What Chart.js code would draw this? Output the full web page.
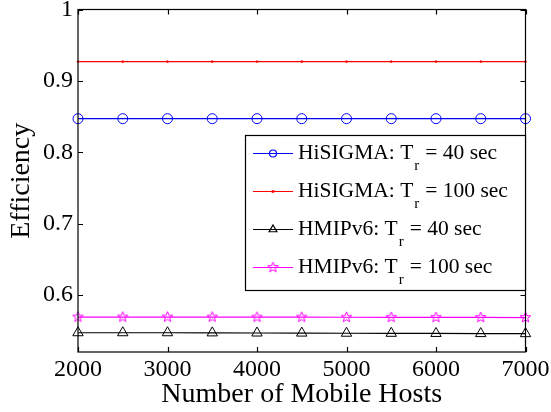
<!DOCTYPE html>
<html>
<head>
<meta charset="utf-8">
<script src="https://cdn.jsdelivr.net/npm/chart.js@4/dist/chart.umd.min.js"></script>
<style>
  html, body { margin: 0; padding: 0; background: #fff; }
  #wrap { width: 551px; height: 412px; position: relative; }
</style>
</head>
<body>
<div id="wrap"><canvas id="chart"></canvas></div>
<script>
// --- Data ---
const hosts = [2000, 2500, 3000, 3500, 4000, 4500, 5000, 5500, 6000, 6500, 7000];
const hisigma40 = [0.847, 0.847, 0.847, 0.847, 0.847, 0.847, 0.847, 0.847, 0.847, 0.847, 0.847];
const hisigma100 = [0.927, 0.927, 0.927, 0.927, 0.927, 0.927, 0.927, 0.927, 0.927, 0.927, 0.927];
const hmip40 = [0.547, 0.547, 0.547, 0.5468, 0.5466, 0.5465, 0.5463, 0.5462, 0.546, 0.5458, 0.5457];
const hmip100 = [0.569, 0.569, 0.569, 0.569, 0.5688, 0.5688, 0.5687, 0.5686, 0.5685, 0.5684, 0.5683];
const xTicks = [2000, 3000, 4000, 5000, 6000, 7000];
const yTicks = [0.6, 0.7, 0.8, 0.9, 1];
const seriesNames = ['HiSIGMA: T', 'HiSIGMA: T', 'HMIPv6: T', 'HMIPv6: T'];
const seriesSuffix = ['= 40 sec', '= 100 sec', '= 40 sec', '= 100 sec'];

const SERIF = '"Liberation Serif", "DejaVu Serif", serif';

// five-point outline star, used as a point style
function makeStar(color, r) {
  const size = Math.ceil(r * 2 + 4);
  const c = document.createElement('canvas');
  c.width = size; c.height = size;
  const g = c.getContext('2d');
  const cx = size / 2, cy = size / 2;
  g.beginPath();
  for (let i = 0; i < 10; i++) {
    const rad = i % 2 === 0 ? r : r * 0.42;
    const a = -Math.PI / 2 + i * Math.PI / 5;
    const px = cx + rad * Math.cos(a), py = cy + rad * Math.sin(a);
    if (i === 0) g.moveTo(px, py); else g.lineTo(px, py);
  }
  g.closePath();
  g.strokeStyle = color;
  g.lineWidth = 1;
  g.stroke();
  return c;
}
const starImg = makeStar('#ff00ff', 5.5);

const toPoints = arr => arr.map((v, i) => ({ x: hosts[i], y: v }));

const datasets = [
  { data: toPoints(hisigma40), borderColor: '#0000ff', pointStyle: 'circle', pointRadius: 5, pointBorderWidth: 1 },
  { data: toPoints(hisigma100), borderColor: '#ff0000', pointStyle: 'rect', pointRadius: 1, pointBorderWidth: 1 },
  { data: toPoints(hmip40), borderColor: '#000000', pointStyle: 'triangle', pointRadius: 6, pointBorderWidth: 1 },
  { data: toPoints(hmip100), borderColor: '#ff00ff', pointStyle: starImg, pointRadius: 6, pointBorderWidth: 1 }
].map(d => Object.assign({
  borderWidth: 1.2,
  backgroundColor: 'rgba(0,0,0,0)',
  pointBackgroundColor: 'rgba(0,0,0,0)',
  pointBorderColor: d.borderColor,
  tension: 0,
  clip: false
}, d));

// box around the plot with inward ticks on all four sides
const framePlugin = {
  id: 'frame',
  afterDatasetsDraw(chart) {
    const { ctx, chartArea: a, scales } = chart;
    ctx.save();
    ctx.strokeStyle = '#000';
    ctx.lineWidth = 1.2;
    ctx.strokeRect(a.left, a.top, a.right - a.left, a.bottom - a.top);
    const tl = 5;
    ctx.beginPath();
    xTicks.forEach(v => {
      const x = Math.round(scales.x.getPixelForValue(v)) + 0.5;
      ctx.moveTo(x, a.bottom); ctx.lineTo(x, a.bottom - tl);
      ctx.moveTo(x, a.top); ctx.lineTo(x, a.top + tl);
    });
    yTicks.forEach(v => {
      const y = Math.round(scales.y.getPixelForValue(v)) + 0.5;
      ctx.moveTo(a.left, y); ctx.lineTo(a.left + tl, y);
      ctx.moveTo(a.right, y); ctx.lineTo(a.right - tl, y);
    });
    ctx.stroke();
    ctx.restore();
  }
};

// legend box with subscripted T_r
const legendPlugin = {
  id: 'subLegend',
  afterDraw(chart) {
    const { ctx } = chart;
    const box = { left: 245, top: 135, right: 525, bottom: 290 };
    ctx.save();
    ctx.fillStyle = '#fff';
    ctx.fillRect(box.left, box.top, box.right - box.left, box.bottom - box.top);
    ctx.strokeStyle = '#000';
    ctx.lineWidth = 1.2;
    ctx.strokeRect(box.left + 0.5, box.top + 0.5, box.right - box.left, box.bottom - box.top);
    datasets.forEach((ds, i) => {
      const y = 153 + i * 38;
      ctx.strokeStyle = ds.borderColor;
      ctx.lineWidth = 1.2;
      ctx.beginPath();
      ctx.moveTo(253, y + 0.5); ctx.lineTo(293, y + 0.5);
      ctx.stroke();
      ctx.fillStyle = ds.pointStyle === 'rect' ? ds.borderColor : 'rgba(0,0,0,0)';
      Chart.helpers.drawPoint(ctx, {
        pointStyle: ds.pointStyle,
        radius: ds.pointStyle === 'rect' ? 1 : ds.pointRadius - 1.5,
        borderWidth: 1,
        rotation: 0
      }, 273, y + 0.5);
      ctx.fillStyle = '#000';
      ctx.textBaseline = 'middle';
      ctx.textAlign = 'left';
      ctx.font = '21.5px ' + SERIF;
      const name = seriesNames[i];
      ctx.fillText(name, 298, y);
      let x = 298 + ctx.measureText(name).width;
      ctx.font = '15px ' + SERIF;
      ctx.fillText('r', x + 1, y + 13);
      x += ctx.measureText('r').width + 7;
      ctx.font = '21.5px ' + SERIF;
      ctx.fillText(seriesSuffix[i], x, y);
    });
    ctx.restore();
  }
};

new Chart(document.getElementById('chart'), {
  type: 'line',
  data: { datasets },
  plugins: [framePlugin, legendPlugin],
  options: {
    responsive: true,
    maintainAspectRatio: false,
    animation: false,
    layout: { padding: { top: 9.5, right: 25.5, left: 0, bottom: 0 } },
    plugins: { legend: { display: false }, tooltip: { enabled: false } },
    scales: {
      x: {
        type: 'linear',
        min: 2000, max: 7000,
        afterBuildTicks: s => { s.ticks = xTicks.map(v => ({ value: v })); },
        afterFit: s => { s.height = 60; s.paddingLeft = 0; s.paddingRight = 0; },
        grid: { display: false, drawTicks: false },
        border: { display: false },
        ticks: { color: '#000', font: { family: SERIF, size: 24 }, padding: 3, maxRotation: 0, callback: v => String(v) },
        title: { display: true, text: 'Number of Mobile Hosts', color: '#000', font: { family: SERIF, size: 28, lineHeight: 1 }, padding: { top: 0, bottom: 3 } }
      },
      y: {
        min: 0.52, max: 1,
        afterBuildTicks: s => { s.ticks = yTicks.map(v => ({ value: v })); },
        afterFit: s => { s.width = 78; s.paddingTop = 0; s.paddingBottom = 0; },
        grid: { display: false, drawTicks: false },
        border: { display: false },
        ticks: { color: '#000', font: { family: SERIF, size: 24 }, padding: 5, callback: v => v === 1 ? '1' : v.toFixed(1) },
        title: { display: true, text: 'Efficiency', color: '#000', font: { family: SERIF, size: 28, lineHeight: 1 }, padding: { top: 8, bottom: 0 } }
      }
    }
  }
});
</script>
</body>
</html>
